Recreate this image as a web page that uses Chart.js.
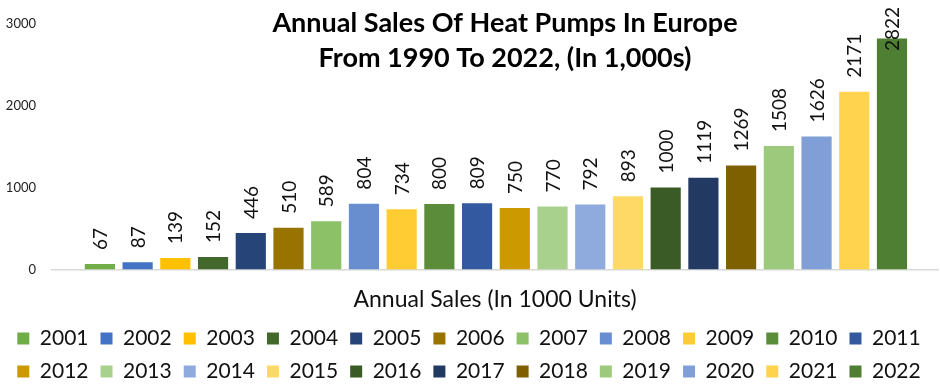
<!DOCTYPE html>
<html>
<head>
<meta charset="utf-8">
<script src="https://cdn.jsdelivr.net/npm/chart.js@4"></script>
<style>
  html, body { margin: 0; padding: 0; background: #fff; }
  #wrap { width: 940px; height: 387px; }
</style>
</head>
<body>
<div id="wrap"><canvas id="grafica"></canvas></div>
<script>
// datos
const years = ['2001', '2002', '2003', '2004', '2005', '2006', '2007', '2008', '2009', '2010', '2011',
               '2012', '2013', '2014', '2015', '2016', '2017', '2018', '2019', '2020', '2021', '2022'];
const sales = [67, 87, 139, 152, 446, 510, 589, 804, 734, 800, 809,
               750, 770, 792, 893, 1000, 1119, 1269, 1508, 1626, 2171, 2822];
const colors = ['#70AD47', '#4472C4', '#FFC000', '#43682B', '#264478', '#997300', '#8CC168', '#698ED0',
                '#FFCD33', '#5B8C3A', '#335AA1', '#CC9A00', '#A9D18E', '#8FAADC', '#FFD966', '#3A5A26',
                '#223962', '#7F6000', '#9DC97C', '#7F9FD6', '#FFD34D', '#4F7F33'];
const yTicks = [0, 1000, 2000, 3000];
const titleLines = ['Annual Sales Of Heat Pumps In Europe', 'From 1990 To 2022, (In 1,000s)'];
const xTitle = 'Annual Sales (In 1000 Units)';

const FONT = 'Lato';

// titulo encima del area
const titlePlugin = {
  id: 'tituloExcel',
  afterDraw(chart) {
    const ctx = chart.ctx;
    const ca = chart.chartArea;
    const cx = (ca.left + ca.right) / 2 + 10;
    ctx.save();
    ctx.fillStyle = '#000';
    ctx.font = 'bold 27px ' + FONT;
    ctx.textAlign = 'center';
    ctx.textBaseline = 'middle';
    ctx.fillText(titleLines[0], cx, 23);
    ctx.fillText(titleLines[1], cx, 58);
    ctx.restore();
  }
};

// etiquetas giradas sobre cada barra
const labelsPlugin = {
  id: 'etiquetas',
  afterDatasetsDraw(chart) {
    const ctx = chart.ctx;
    ctx.save();
    ctx.font = '19px ' + FONT;
    ctx.fillStyle = '#111';
    ctx.textAlign = 'left';
    ctx.textBaseline = 'middle';
    chart.data.datasets.forEach((ds, i) => {
      const meta = chart.getDatasetMeta(i);
      meta.data.forEach((bar, j) => {
        const txt = String(ds.data[j].y);
        const w = ctx.measureText(txt).width;
        let start = bar.y - 14;
        if (start - w < 7) start = 7 + w;
        ctx.save();
        ctx.translate(bar.x, start);
        ctx.rotate(-Math.PI / 2);
        ctx.fillText(txt, 0, 1);
        ctx.restore();
      });
    });
    ctx.restore();
  }
};

const datasets = years.map((y, i) => ({
  label: y,
  data: [{ x: i, y: sales[i] }],
  backgroundColor: colors[i],
  borderWidth: 0,
  barPercentage: 0.8,
  categoryPercentage: 1
}));

new Chart(document.getElementById('grafica'), {
  type: 'bar',
  data: { datasets: datasets },
  options: {
    responsive: true,
    maintainAspectRatio: false,
    animation: false,
    layout: { padding: { top: 24, right: 2, left: 0, bottom: -5 } },
    plugins: {
      legend: {
        position: 'bottom',
        labels: {
          boxWidth: 12,
          boxHeight: 12,
          padding: 12,
          color: '#111',
          font: { family: FONT, size: 21 }
        }
      },
      tooltip: { enabled: false },
      title: { display: false }
    },
    scales: {
      x: {
        type: 'linear',
        stacked: true,
        offset: false,
        min: -1.27,
        max: 22.22,
        grid: { display: false, drawTicks: false },
        border: { display: true, color: '#D9D9D9', width: 1.5 },
        ticks: { display: false },
        title: {
          display: true,
          text: xTitle,
          color: '#111',
          font: { family: FONT, size: 23 },
          padding: { top: 16, bottom: 3 }
        }
      },
      y: {
        stacked: true,
        min: 0,
        max: 3000,
        afterBuildTicks(axis) { axis.ticks = yTicks.map(v => ({ value: v })); },
        afterFit(axis) { axis.width = 52; },
        grid: { display: false, drawTicks: false },
        border: { display: false },
        ticks: {
          padding: 16,
          color: '#222',
          font: { family: FONT, size: 13 },
          callback: v => String(v)
        }
      }
    }
  },
  plugins: [titlePlugin, labelsPlugin]
});
</script>
</body>
</html>
